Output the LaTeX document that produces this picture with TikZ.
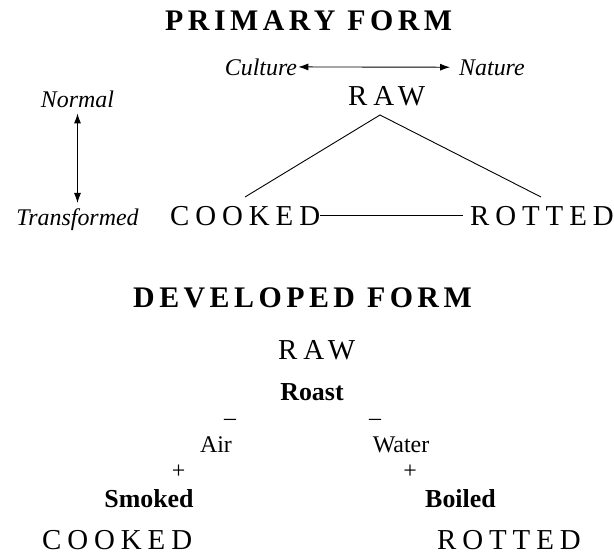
\documentclass[tikz,border=0pt]{standalone}
\usepackage{fontspec}
\setmainfont{Liberation Serif}
\newfontfamily\capsfont[LetterSpace=20.5]{Liberation Serif}
\newfontfamily\headfont[LetterSpace=15]{Liberation Serif}
\usetikzlibrary{arrows.meta}

\begin{document}
\begin{tikzpicture}[
    every node/.style={inner sep=0pt},
    head/.style={anchor=base west,font=\headfont\bfseries\fontsize{30}{32}\selectfont},
    caps/.style={anchor=base west,font=\capsfont\fontsize{29}{32}\selectfont},
    ital/.style={anchor=base,font=\itshape\fontsize{24}{28}\selectfont},
    word/.style={anchor=base,font=\fontsize{24}{28}\selectfont},
    cook/.style={anchor=base,font=\bfseries\fontsize{26}{28}\selectfont},
    twoway/.style={line width=0.9bp,{Latex[length=10bp,width=7bp]}-{Latex[length=10bp,width=7bp]}},
    link/.style={line width=0.9bp}]
    \useasboundingbox (0bp,0bp) rectangle (614bp,-554bp);
    \node (primary) at (165bp,-30bp)[head] {PRIMARY FORM};
    \node (culture) at (261bp,-75bp)[ital] {Culture};
    \node (nature) at (492bp,-75bp)[ital] {Nature};
    \node (normal) at (77.5bp,-107bp)[ital] {Normal};
    \node (raw) at (348bp,-105bp)[caps] {RAW};
    \node (transformed) at (77.5bp,-225bp)[ital] {Transformed};
    \node (cooked) at (170bp,-225bp)[caps] {COOKED};
    \node (rotted) at (470bp,-225bp)[caps] {ROTTED};
    \coordinate (apex) at (380bp,-115bp);
    \coordinate (lfoot) at (245bp,-197bp);
    \coordinate (rfoot) at (541bp,-197bp);
    \draw [twoway,shorten <=1bp,shorten >=9bp] (culture) -- (nature);
    \draw [twoway,shorten <=6bp,shorten >=5bp] (normal) -- (transformed);
    \draw [link] (lfoot) -- (apex) -- (rfoot);
    \draw [link,shorten >=7bp] (cooked) -- (rotted);

    \node (developed) at (133bp,-307bp)[head] {DEVELOPED FORM};
    \node (raw2) at (278bp,-359bp)[caps] {RAW};
    \node (roast) at (312bp,-400bp)[cook] {Roast};
    \node (minusair) at (230bp,-425.5bp)[word] {\textendash};
    \node (minuswater) at (375bp,-425.5bp)[word] {\textendash};
    \node (air) at (216bp,-452bp)[word] {Air};
    \node (water) at (401bp,-452bp)[word] {Water};
    \node (plussmoked) at (178.5bp,-478bp)[word] {+};
    \node (plusboiled) at (410bp,-478bp)[word] {+};
    \node (smoked) at (149bp,-507bp)[cook] {Smoked};
    \node (boiled) at (460.5bp,-507bp)[cook] {Boiled};
    \node (cooked2) at (42bp,-549bp)[caps] {COOKED};
    \node (rotted2) at (437bp,-549bp)[caps] {ROTTED};
\end{tikzpicture}
\end{document}
